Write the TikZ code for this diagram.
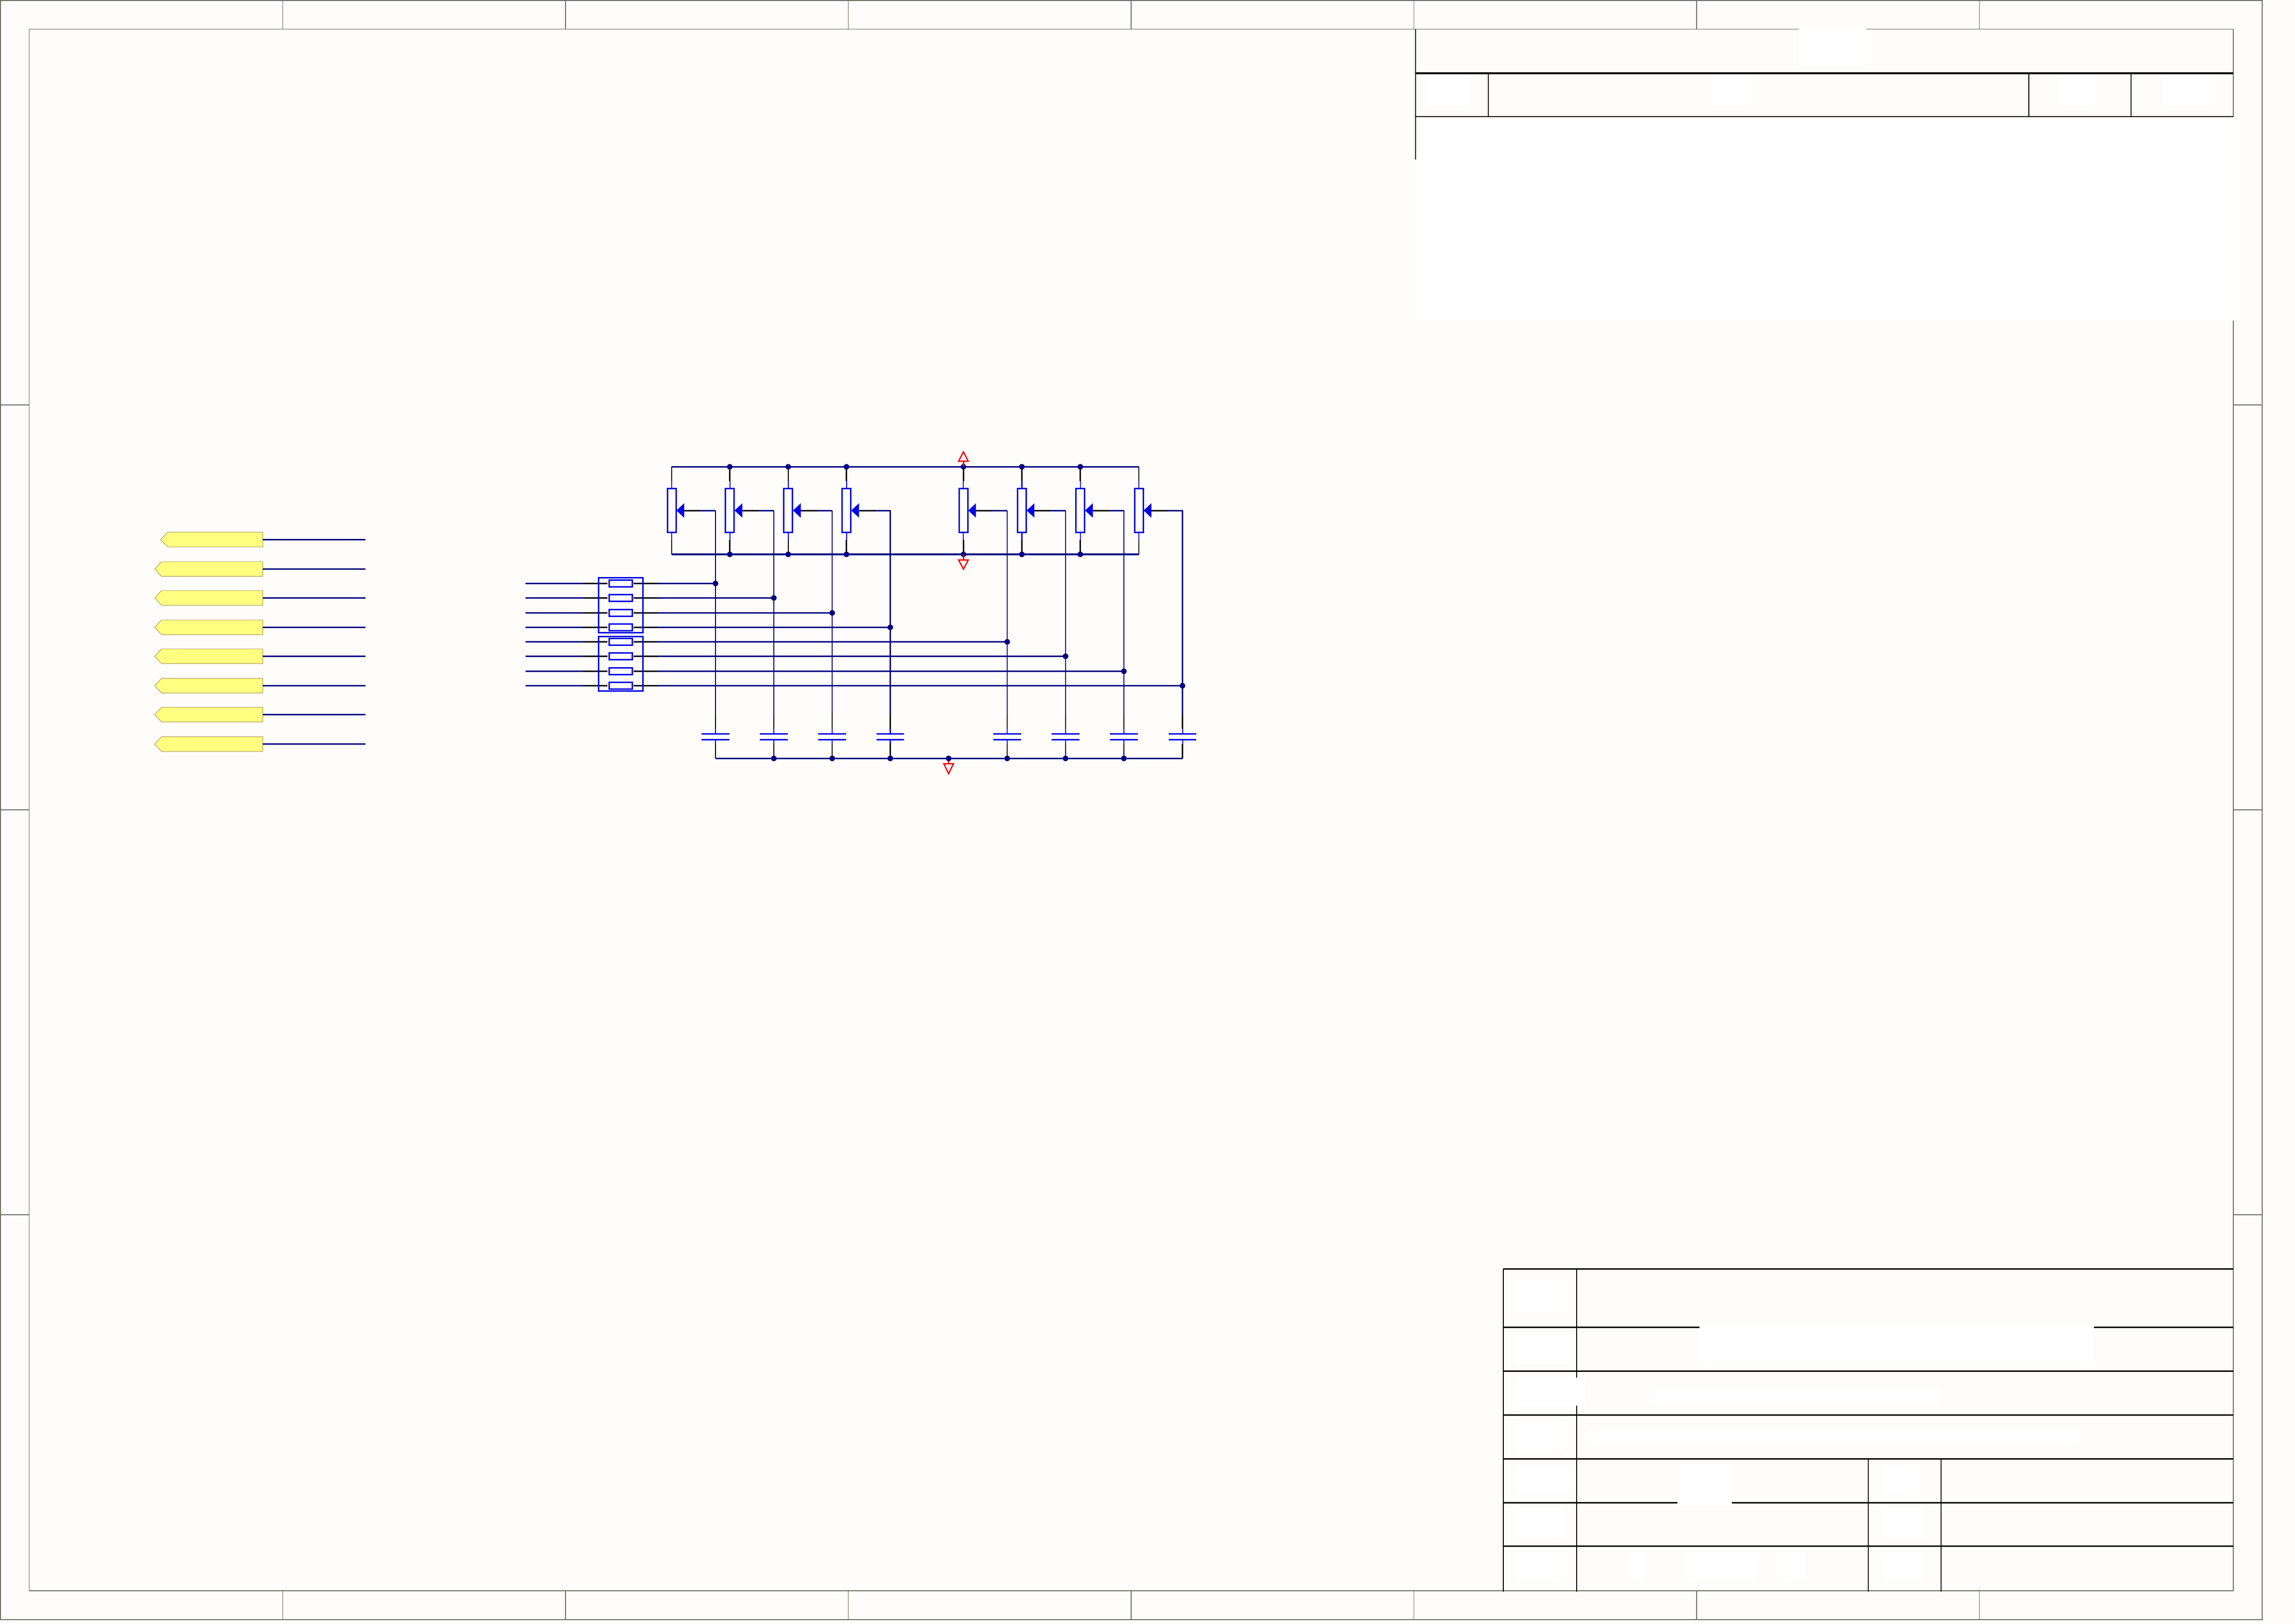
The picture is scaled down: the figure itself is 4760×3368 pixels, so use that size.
\documentclass[tikz,border=0pt]{standalone}
\usetikzlibrary{calc}
\definecolor{paper}{HTML}{FFFDFB}
\definecolor{sheetline}{HTML}{6E6A64}
\definecolor{wirenavy}{HTML}{000080}
\definecolor{partblue}{HTML}{0000E6}
\definecolor{pwrred}{HTML}{F00000}
\definecolor{labfill}{HTML}{FFFF80}
\definecolor{labedge}{HTML}{B8A060}
\tikzset{
  sheet/.style={draw=sheetline,line width=1.6pt},
  tblthick/.style={draw=black,line width=3pt},
  tblthin/.style={draw=black,line width=2pt},
  rail/.style={draw=wirenavy,line width=3.2pt},
  wire/.style={draw=wirenavy,line width=2.6pt},
  hwire/.style={draw=wirenavy,line width=3pt},
  pin/.style={draw=black,line width=2.6pt},
  stub/.style={draw=partblue,line width=2.2pt},
  potbody/.style={draw=partblue,line width=3pt,rectangle,inner sep=0pt,minimum width=18pt,minimum height=91pt},
  resbody/.style={draw=partblue,line width=3pt,rectangle,inner sep=0pt,minimum width=48pt,minimum height=13.5pt},
  packbody/.style={draw=partblue,line width=3pt,rectangle,inner sep=0pt,minimum width=92pt,minimum height=113.5pt},
  dot/.style={circle,fill=wirenavy,inner sep=0pt,minimum size=11.5pt},
  pwr/.style={draw=pwrred,line width=2.6pt,line join=miter},
  plate/.style={draw=partblue,line width=3.4pt},
  mask/.style={fill=white,draw=none},
  siglabel/.style={draw=labedge,fill=labfill,line width=1.2pt}
}
\begin{document}
\begin{tikzpicture}[x=1pt,y=-1pt]
\useasboundingbox (0,0) rectangle (4760,3368);
\fill[paper] (0,0) rectangle (4760,3368);
% sheet frame
\draw[sheet] (0.8,0.8) rectangle (4692,3360);
\draw[sheet] (60.3,60.3) rectangle (4632,3300);
\foreach \k in {1,...,7}{
  \draw[sheet,line width=1.2pt] ({586.5*\k},0.8) -- ({586.5*\k},60.3);
  \draw[sheet,line width=1.2pt] ({586.5*\k},3300) -- ({586.5*\k},3360);
}
\foreach \k in {1,2,3}{
  \draw[sheet,line width=1.2pt] (0.8,{840*\k}) -- (60.3,{840*\k});
  \draw[sheet,line width=1.2pt] (4632,{840*\k}) -- (4692,{840*\k});
}
% white patches, upper table
\fill[mask] (2938,243) rectangle (4633.5,665);
\fill[mask] (3730.5,57) rectangle (3871,134);
\fill[mask] (2961,158) rectangle (3050,219);
\fill[mask] (3552,158) rectangle (3633,219);
\fill[mask] (4267,158) rectangle (4345,219);
\fill[mask] (4484,158) rectangle (4585,219);
% upper table
\draw[tblthin] (2936,60.3) -- (2936,331);
\draw[draw=black,line width=3.6pt] (2936,151.8) -- (4632,151.8);
\draw[tblthin] (2936,241.5) -- (4632,241.5);
\foreach \x in {3087.4,4207.5,4420}{\draw[tblthin] (\x,151.8) -- (\x,241.5);}
% white patches, lower table
\fill[mask] (3141,2655) rectangle (3240,2720);
\fill[mask] (3141,2768) rectangle (3260,2830);
\fill[mask] (3525,2750) rectangle (4343,2833);
\fill[mask] (3141,2858) rectangle (3287,2916);
\fill[mask] (3423,2877) rectangle (4022,2914);
\fill[mask] (3141,2950) rectangle (3240,3010);
\fill[mask] (3298,2967) rectangle (4312,2997);
\fill[mask] (3140,3040) rectangle (3260,3100);
\fill[mask] (3486,3039) rectangle (3591,3123);
\fill[mask] (3902,3040) rectangle (3980,3100);
\fill[mask] (3140,3130) rectangle (3245,3190);
\fill[mask] (3902,3130) rectangle (3990,3190);
\fill[mask] (3145,3220) rectangle (3240,3280);
\fill[mask] (3378,3220) rectangle (3410,3280);
\fill[mask] (3500,3220) rectangle (3640,3280);
\fill[mask] (3695,3220) rectangle (3745,3280);
\fill[mask] (3902,3220) rectangle (3990,3280);
% lower table
\draw[tblthick] (3118,2632) -- (4632,2632);
\draw[tblthick] (3118,2753.2) -- (3525,2753.2);
\draw[tblthick] (4343,2753.2) -- (4632,2753.2);
\draw[tblthick] (3118,2844.2) -- (4632,2844.2);
\draw[tblthick] (3118,2935) -- (4632,2935);
\draw[tblthick] (3118,3026) -- (4632,3026);
\draw[tblthick] (3118,3117) -- (3479,3117);
\draw[tblthick] (3592,3117) -- (4632,3117);
\draw[tblthick] (3118,3207) -- (4632,3207);
\draw[tblthin] (3118,2632) -- (3118,3302);
\draw[tblthin] (3269.6,2632) -- (3269.6,2858);
\draw[tblthin] (3269.6,2916) -- (3269.6,3302);
\draw[tblthin,line width=2.6pt] (3875,3026) -- (3875,3302);
\draw[tblthin,line width=2.6pt] (4026,3026) -- (4026,3302);
% signal labels on the left
\foreach \n/\y/\tip/\neck in {1/1119.3/333/348,2/1180.4/321/335,3/1240.4/321/335,4/1301.4/321/335,5/1361.4/321/335,6/1422.5/321/335,7/1482.5/321/335,8/1543.6/321/335}{
  \draw[siglabel] (545,\y-15.3) -- (\neck,\y-15.3) -- (\tip,\y) -- (\neck,\y+15.3) -- (545,\y+15.3) -- cycle;
  \coordinate (lab\n) at (545,\y);
  \coordinate (labend\n) at (758,\y);
  \draw[hwire] (lab\n) -- (labend\n);
}
% rails
\coordinate (topL) at (1393,968.3);
\coordinate (topR) at (2362,968.3);
\coordinate (botL) at (1393,1150);
\coordinate (botR) at (2362,1150);
\coordinate (capL) at (1484,1573.3);
\coordinate (capR) at (2453,1573.3);
% horizontal wires through the resistor packs, vertical wiper wires, capacitors
\foreach \n/\px/\dx/\wy in {1/1393/1484/1210.4,2/1513.6/1605/1240.4,3/1634.8/1726/1271.4,4/1755.6/1846.5/1301.4,5/1998.2/2089/1331.4,6/2119.4/2210/1361.4,7/2240.6/2331/1392.5,8/2362/2452.6/1422.5}{
  \coordinate (wirein\n) at (1089.5,\wy);
  \coordinate (resL\n) at (1210,\wy);
  \coordinate (resLi\n) at (1260,\wy);
  \coordinate (resRi\n) at (1314,\wy);
  \coordinate (resR\n) at (1364,\wy);
  \coordinate (join\n) at (\dx,\wy);
  \coordinate (wipe\n) at (\dx,1059);
  \coordinate (capA\n) at (\dx,1483);
  \coordinate (capB\n) at (\dx,1512);
  \coordinate (capC\n) at (\dx,1522.3);
  \coordinate (capD\n) at (\dx,1534.3);
  \coordinate (capE\n) at (\dx,1543);
  \coordinate (capF\n) at (\dx,1573.3);
  \draw[hwire] (wirein\n) -- (resL\n);
  \draw[hwire] (resR\n) -- (join\n);
  \draw[wire] (wipe\n) -- (capA\n);
  \draw[pin] (capA\n) -- (capB\n);
  \draw[stub] (capB\n) -- (capC\n);
  \draw[stub] (capD\n) -- (capE\n);
  \draw[pin] (capE\n) -- (capF\n);
  \draw[plate] ($(capC\n)+(-28.6,0)$) -- ($(capC\n)+(28.6,0)$);
  \draw[plate] ($(capD\n)+(-28.6,0)$) -- ($(capD\n)+(28.6,0)$);
  \node[dot] (jd\n) at (join\n) {};
  % potentiometer
  \node[potbody] (pot\n) at (\px,1059) {};
  \coordinate (ptA\n) at (\px,968.3);
  \coordinate (ptB\n) at (\px,998);
  \coordinate (pbB\n) at (\px,1120);
  \coordinate (pbA\n) at (\px,1150);
  \draw[pin] (ptA\n) -- (ptB\n);
  \draw[stub] (ptB\n) -- (pot\n.north);
  \draw[stub] (pot\n.south) -- (pbB\n);
  \draw[pin] (pbB\n) -- (pbA\n);
  \coordinate (wb\n) at (\px+26,1059);
  \coordinate (wm\n) at (\px+60,1059);
  \draw[hwire] (wm\n) -- (wipe\n);
  \draw[pin,line width=3pt] (wb\n) -- (wm\n);
  \fill[partblue] (\px+10,1059) -- (\px+26,1044) -- (\px+26,1074) -- cycle;
  % resistor
  \node[resbody] (res\n) at (1287,\wy) {};
  \draw[pin,line width=3.2pt] (resL\n) -- (resLi\n);
  \draw[pin,line width=3.2pt] (resRi\n) -- (resR\n);
}
\node[packbody] (packA) at (1287,1255.7) {};
\node[packbody] (packB) at (1287,1376.8) {};
\draw[rail] (topL) -- (topR);
\draw[rail] (botL) -- (botR);
\draw[rail] (capL) -- (capR);
\foreach \x in {1513.6,1634.8,1755.6,1998.2,2119.4,2240.6}{
  \node[dot] at (\x,968.3) {};
  \node[dot] at (\x,1150) {};
}
\foreach \x in {1605,1726,1846.5,2089,2210,2331}{
  \node[dot] at (\x,1573.3) {};
}
% power and ground symbols
\node[dot] (gndjoin) at (1967.5,1573.3) {};
\draw[pwr] (1998.2,968.3) -- (1998.2,956.7);
\draw[pwr] (1988.2,956.7) -- (2008.2,956.7) -- (1998.2,937.5) -- cycle;
\draw[pwr] (1998.2,1150) -- (1998.2,1161.7);
\draw[pwr] (1988.2,1161.7) -- (2008.2,1161.7) -- (1998.2,1180.7) -- cycle;
\draw[pwr] (gndjoin) -- (1967.5,1584.3);
\draw[pwr] (1957.5,1584.3) -- (1977.5,1584.3) -- (1967.5,1605) -- cycle;
\end{tikzpicture}
\end{document}
